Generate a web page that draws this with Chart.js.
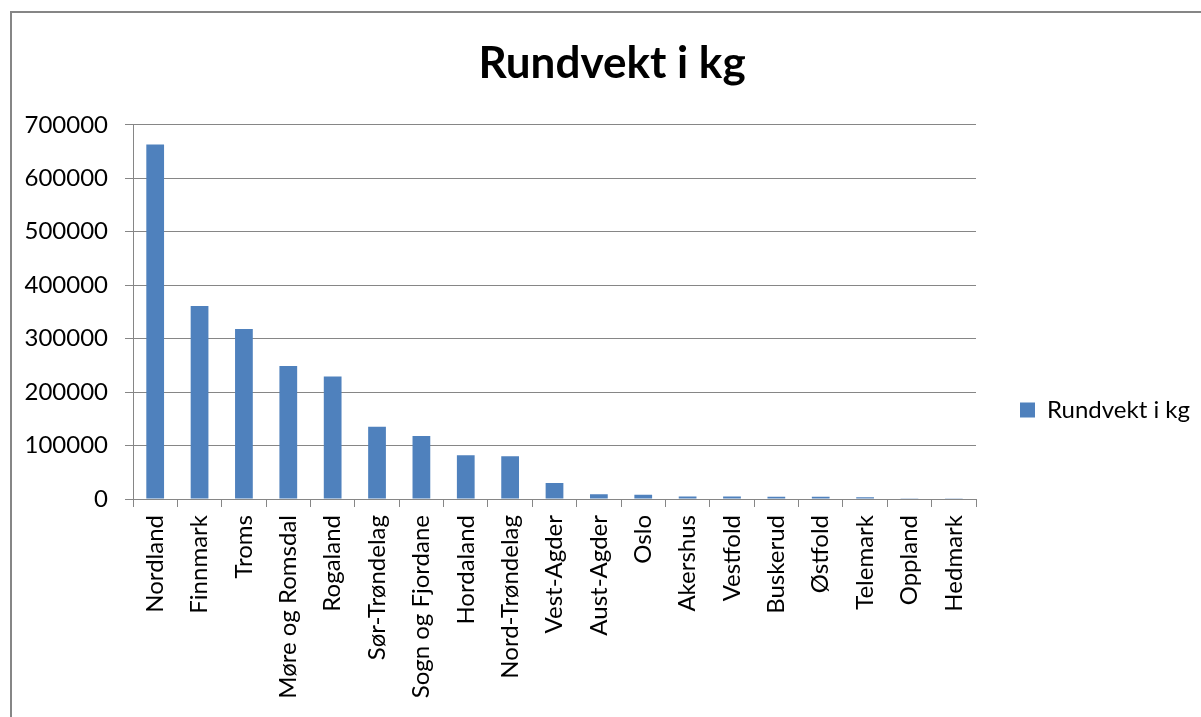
<!DOCTYPE html>
<html>
<head>
<meta charset="utf-8">
<script src="https://cdn.jsdelivr.net/npm/chart.js@4/dist/chart.umd.min.js"></script>
<style>
  html, body { margin: 0; padding: 0; background: #fff; }
  #wrap { width: 1201px; height: 717px; }
</style>
</head>
<body>
<div id="wrap"><canvas id="chart" width="1201" height="717"></canvas></div>
<script>
// Fylker og rundvekt (kg), lest av figuren
const counties = ['Nordland', 'Finnmark', 'Troms', 'Møre og Romsdal', 'Rogaland', 'Sør-Trøndelag',
    'Sogn og Fjordane', 'Hordaland', 'Nord-Trøndelag', 'Vest-Agder', 'Aust-Agder', 'Oslo',
    'Akershus', 'Vestfold', 'Buskerud', 'Østfold', 'Telemark', 'Oppland', 'Hedmark'];
const weights = [663000, 361000, 318000, 249000, 229000, 135000, 118000, 82000, 80000,
    30000, 9000, 8000, 4500, 4500, 4000, 4000, 3500, 1500, 300];
const yTicks = [0, 100000, 200000, 300000, 400000, 500000, 600000, 700000];

const GRAY = '#868686';
const FONT = 'Lato, "Open Sans", sans-serif';

// white background + outer frame (top and left edge are visible)
const framePlugin = {
    id: 'frame',
    beforeDraw(chart) {
        const ctx = chart.ctx;
        ctx.save();
        ctx.fillStyle = '#fff';
        ctx.fillRect(0, 0, chart.width, chart.height);
        ctx.strokeStyle = GRAY;
        ctx.lineWidth = 2;
        ctx.beginPath();
        ctx.moveTo(1201, 12);
        ctx.lineTo(11, 12);
        ctx.lineTo(11, 717);
        ctx.stroke();
        ctx.restore();
    }
};

// move legend and title to where Excel had them
const placeBoxes = {
    id: 'placeBoxes',
    afterLayout(chart) {
        const l = chart.legend;
        if (l) {
            const dx = 1010 - l.left;
            l.left += dx; l.right += dx;
            const dy = 410 - (l.top + l.bottom) / 2;
            l.top += dy; l.bottom += dy;
        }
        const t = chart.titleBlock;
        if (t) {
            const dx = 612 - (t.left + t.right) / 2;
            t.left += dx; t.right += dx;
        }
    }
};

new Chart(document.getElementById('chart'), {
    type: 'bar',
    data: {
        labels: counties,
        datasets: [{
            label: 'Rundvekt i kg',
            data: weights,
            backgroundColor: '#4F81BD',
            borderWidth: 0,
            barPercentage: 0.4,
            categoryPercentage: 1
        }]
    },
    options: {
        responsive: false,
        animation: false,
        layout: { padding: { left: 0, right: 35, top: 0, bottom: 0 } },
        plugins: {
            title: {
                display: true,
                text: 'Rundvekt i kg',
                color: '#000',
                font: { family: FONT, size: 44, weight: 'bold', lineHeight: 1.2 },
                padding: { top: 37, bottom: 35 }
            },
            legend: {
                position: 'right',
                labels: {
                    color: '#000',
                    font: { family: FONT, size: 24 },
                    boxWidth: 15,
                    boxHeight: 15,
                    padding: 10
                }
            },
            tooltip: { enabled: false }
        },
        scales: {
            x: {
                offset: true,
                grid: { offset: true, drawOnChartArea: false, color: GRAY, tickLength: 8 },
                border: { color: GRAY },
                ticks: {
                    autoSkip: false, minRotation: 90, maxRotation: 90, padding: 8,
                    color: '#000', font: { family: FONT, size: 24 }
                },
                afterFit(scale) { scale.height = 218; }
            },
            y: {
                min: 0,
                max: 700000,
                afterBuildTicks(scale) { scale.ticks = yTicks.map(v => ({ value: v })); },
                grid: { color: GRAY, tickLength: 8 },
                border: { color: GRAY },
                ticks: {
                    padding: 17, color: '#000', font: { family: FONT, size: 24 },
                    callback: v => String(v)
                },
                afterFit(scale) { scale.width = 133; }
            }
        }
    },
    plugins: [framePlugin, placeBoxes]
});
</script>
</body>
</html>
